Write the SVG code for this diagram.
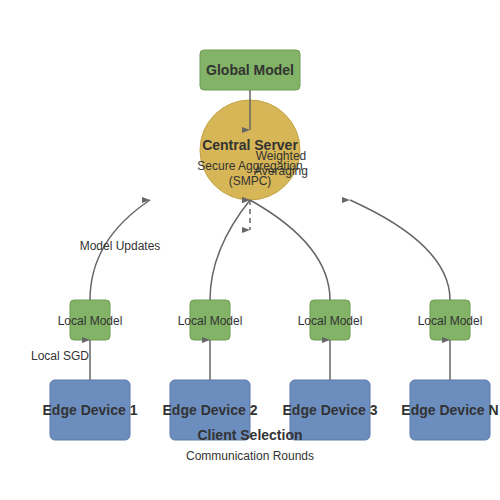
<svg xmlns="http://www.w3.org/2000/svg" width="500" height="500" viewBox="0 0 500 500">
<defs>
<marker id="arr" markerWidth="8" markerHeight="6" refX="8" refY="3" orient="0" markerUnits="userSpaceOnUse">
<path d="M0,0 L8,3 L0,6 Z" fill="#666"/>
</marker>
<style>
.lbl{font-family:"Liberation Sans",Arial,sans-serif;fill:#333;text-anchor:middle}
.b{font-weight:bold;font-size:14px}
.s{font-size:12px}
.green{fill:#82b366;stroke:#6d9e55;stroke-width:1}
.blue{fill:#6c8ebf;stroke:#5a78a6;stroke-width:1}
.conn{fill:none;stroke:#666;stroke-width:1.5;marker-end:url(#arr)}
</style>
</defs>
<rect width="500" height="500" fill="#fff"/>
<g id="global-model">
<rect class="green" x="200" y="50" width="100" height="40" rx="4"/>
<text class="lbl b" x="250" y="75">Global Model</text>
</g>
<g id="central-server">
<circle cx="250" cy="150" r="50" fill="#d6b656" stroke="#c4a347" stroke-width="1"/>
</g>
<g id="local-1"><rect class="green" x="70" y="300" width="40" height="40" rx="4"/></g>
<g id="local-2"><rect class="green" x="190" y="300" width="40" height="40" rx="4"/></g>
<g id="local-3"><rect class="green" x="310" y="300" width="40" height="40" rx="4"/></g>
<g id="local-n"><rect class="green" x="430" y="300" width="40" height="40" rx="4"/></g>
<g id="edge-1"><rect class="blue" x="50" y="380" width="80" height="60" rx="5"/></g>
<g id="edge-2"><rect class="blue" x="170" y="380" width="80" height="60" rx="5"/></g>
<g id="edge-3"><rect class="blue" x="290" y="380" width="80" height="60" rx="5"/></g>
<g id="edge-n"><rect class="blue" x="410" y="380" width="80" height="60" rx="5"/></g>
<g id="connectors">
<path class="conn" d="M250,90 L250,130"/>
<path class="conn" d="M90,300 Q90,240 150,200"/>
<path class="conn" d="M210,300 Q210,250 250,200"/>
<path class="conn" d="M330,300 Q330,245 250,200"/>
<path class="conn" d="M450,300 Q450,245 350,200"/>
<path class="conn" d="M250,200 L250,230" stroke-dasharray="5,4"/>
<path class="conn" d="M90,380 L90,340"/>
<path class="conn" d="M210,380 L210,340"/>
<path class="conn" d="M330,380 L330,340"/>
<path class="conn" d="M450,380 L450,340"/>
</g>
<g id="texts">
<text class="lbl b" x="250" y="150">Central Server</text>
<text class="lbl s" x="250" y="170">Secure Aggregation</text>
<text class="lbl s" x="250" y="185">(SMPC)</text>
<text class="lbl s" x="281" y="160">Weighted</text>
<text class="lbl s" x="281" y="175">Averaging</text>
<text class="lbl s" x="120" y="250">Model Updates</text>
<text class="lbl s" x="60" y="360">Local SGD</text>
<text class="lbl s" x="90" y="325">Local Model</text>
<text class="lbl s" x="210" y="325">Local Model</text>
<text class="lbl s" x="330" y="325">Local Model</text>
<text class="lbl s" x="450" y="325">Local Model</text>
<text class="lbl b" x="90" y="415">Edge Device 1</text>
<text class="lbl b" x="210" y="415">Edge Device 2</text>
<text class="lbl b" x="330" y="415">Edge Device 3</text>
<text class="lbl b" x="450" y="415">Edge Device N</text>
<text class="lbl b" x="250" y="440">Client Selection</text>
<text class="lbl s" x="250" y="460">Communication Rounds</text>
</g>
</svg>
